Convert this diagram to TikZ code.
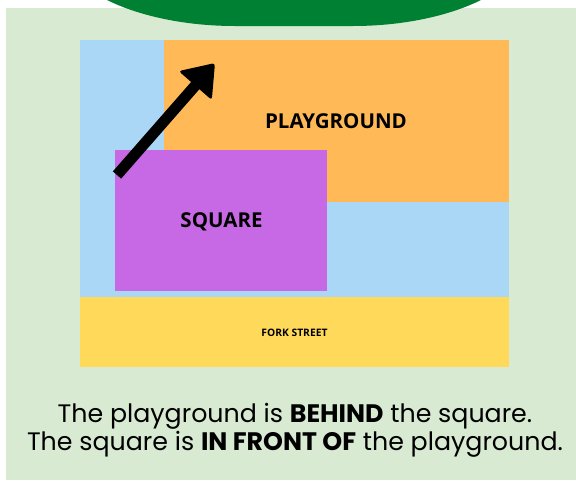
\documentclass[tikz,border=0pt]{standalone}
\usepackage{fontspec}
\newfontfamily\labfont{Open Sans}
\newfontfamily\capfont{Poppins}
\usetikzlibrary{calc}
\definecolor{bggreen}{HTML}{D9EAD3}
\definecolor{darkgreen}{HTML}{008033}
\definecolor{skyblue}{HTML}{A9D7F5}
\definecolor{playorange}{HTML}{FFB957}
\definecolor{squarepurple}{HTML}{C769E4}
\definecolor{streetyellow}{HTML}{FFDA5A}
\begin{document}
\begin{tikzpicture}[x=1pt,y=-1pt,
  lab/.style={font=\labfont\bfseries\fontsize{20.5}{23}\selectfont, inner sep=0pt},
  smalllab/.style={font=\labfont\bfseries\fontsize{10.3}{12}\selectfont, inner sep=0pt},
  captext/.style={font=\capfont\fontsize{25.3}{28}\selectfont, inner sep=0pt, anchor=base}]
\useasboundingbox (0,0) rectangle (576,480);
\fill[white] (0,0) rectangle (576,480);
\fill[bggreen] (6,8) rectangle (576,480);
\fill[darkgreen] (107,0) .. controls (135,14) and (180,26) .. (235,26) -- (353,26)
  .. controls (408,26) and (453,14) .. (481,0) -- cycle;
% map
\fill[skyblue] (80,40) rectangle (509,297);
\fill[playorange] (164,40) rectangle (509,202);
\fill[squarepurple] (115,150) rectangle (327,291);
\fill[streetyellow] (80,297) rectangle (509,367);
\node[lab] (playground) at (336,121) {PLAYGROUND};
\node[lab, anchor=base] (square) at (221.5,227) {SQUARE};
\node[smalllab] (street) at (294.5,333) {FORK STREET};
% arrow
\coordinate (tail) at (117,175);
\coordinate (tip) at (215,63);
\coordinate (base) at ($(tip)!30pt!(tail)$);
\coordinate (hl) at ($(base)!22pt!90:(tip)$);
\coordinate (hr) at ($(base)!22pt!-90:(tip)$);
\draw[line width=11pt] (tail) -- ($(tip)!26pt!(tail)$);
\fill[rounded corners=3pt] (tip) -- (hl) -- (hr) -- cycle;
% caption
\node[captext] (line1) at (295,422) {The playground is \textbf{BEHIND} the square.};
\node[captext] (line2) at (295,450) {The square is \textbf{IN FRONT OF} the playground.};
\end{tikzpicture}
\end{document}
